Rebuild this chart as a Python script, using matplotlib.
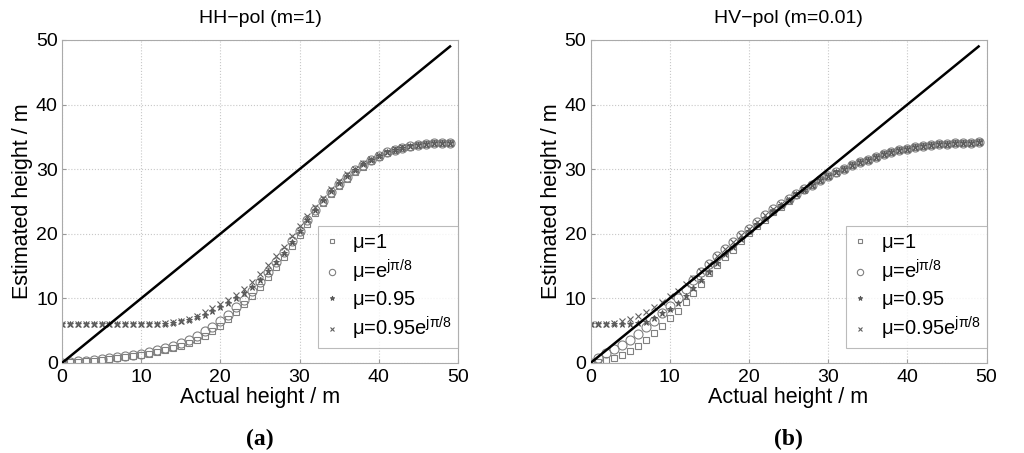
import matplotlib
matplotlib.use("Agg")
import matplotlib.pyplot as plt
import numpy as np

plt.rcParams['font.family'] = ['Liberation Sans', 'DejaVu Sans']
plt.rcParams['mathtext.fontset'] = 'custom'
plt.rcParams['mathtext.rm'] = 'Liberation Sans'
plt.rcParams['mathtext.it'] = 'Liberation Sans:italic'

actual = list(range(50))

# HH-pol (m=1)
hh_mu1 = [0.0, 0.1, 0.15, 0.25, 0.35, 0.5, 0.6, 0.75, 0.9, 1.05, 1.2, 1.4, 1.65, 1.95, 2.3, 2.7,
          3.1, 3.6, 4.2, 4.9, 5.8, 6.8, 7.9, 9.1, 10.4, 11.8, 13.3, 14.8, 16.4, 18.1, 19.8, 21.5,
          23.2, 24.7, 26.1, 27.4, 28.5, 29.5, 30.4, 31.2, 31.9, 32.5, 32.9, 33.3, 33.5, 33.7,
          33.9, 34.0, 34.0, 34.1]
hh_mue = [0.05, 0.15, 0.25, 0.35, 0.45, 0.6, 0.75, 0.9, 1.05, 1.25, 1.45, 1.7, 2.0, 2.3, 2.7, 3.1,
          3.6, 4.2, 4.9, 5.6, 6.5, 7.5, 8.6, 9.8, 11.1, 12.6, 14.1, 15.7, 17.2, 18.9, 20.5, 22.1,
          23.7, 25.1, 26.5, 27.7, 28.8, 29.8, 30.7, 31.4, 32.0, 32.6, 33.0, 33.3, 33.6, 33.8,
          33.9, 34.0, 34.05, 34.1]
hh_mu095 = [6.0, 6.0, 6.0, 6.0, 6.0, 6.0, 6.0, 6.0, 6.0, 6.0, 6.0, 6.0, 6.05, 6.1, 6.25, 6.45,
            6.7, 7.1, 7.5, 8.0, 8.6, 9.3, 10.0, 10.8, 11.8, 12.9, 14.2, 15.6, 17.1, 18.8, 20.5,
            22.1, 23.7, 25.2, 26.6, 27.8, 28.9, 29.9, 30.8, 31.5, 32.1, 32.6, 33.0, 33.35, 33.6,
            33.8, 33.9, 34.0, 34.05, 34.1]
hh_mu095e = [6.0, 6.0, 6.0, 6.0, 6.0, 6.0, 6.0, 6.0, 6.0, 6.0, 6.0, 6.0, 6.05, 6.15, 6.3, 6.55,
             6.85, 7.3, 7.9, 8.5, 9.1, 9.8, 10.5, 11.4, 12.5, 13.8, 15.1, 16.5, 18.0, 19.6, 21.2,
             22.7, 24.2, 25.6, 27.0, 28.2, 29.2, 30.1, 30.9, 31.6, 32.2, 32.7, 33.1, 33.4, 33.6,
             33.8, 33.9, 34.0, 34.05, 34.1]

# HV-pol (m=0.01)
hv_mu1 = [0.0, 0.1, 0.4, 0.7, 1.25, 1.85, 2.6, 3.6, 4.6, 5.7, 6.9, 8.1, 9.4, 10.8, 12.3, 13.9,
          15.1, 16.4, 17.5, 18.9, 20.1, 21.2, 22.2, 23.3, 24.2, 25.1, 26.0, 26.8, 27.6, 28.3,
          28.9, 29.4, 30.0, 30.6, 31.1, 31.5, 31.9, 32.3, 32.7, 33.0, 33.2, 33.4, 33.6, 33.7,
          33.85, 33.95, 34.0, 34.05, 34.1, 34.15]
hv_mue = [0.0, 0.7, 1.5, 2.1, 2.8, 3.6, 4.5, 5.5, 6.5, 7.7, 8.8, 10.1, 11.5, 12.9, 14.1, 15.4,
          16.6, 17.6, 18.8, 19.8, 20.8, 21.9, 22.9, 23.8, 24.6, 25.4, 26.2, 26.9, 27.6, 28.3,
          28.9, 29.5, 30.1, 30.6, 31.1, 31.5, 31.9, 32.3, 32.7, 33.0, 33.2, 33.4, 33.6, 33.7,
          33.85, 33.95, 34.0, 34.05, 34.1, 34.15]
hv_mu095 = [6.0, 6.0, 6.0, 6.0, 6.0, 6.0, 6.2, 6.4, 6.9, 7.7, 8.4, 9.3, 10.4, 11.6, 12.8, 14.1,
            15.5, 16.8, 18.0, 19.2, 20.4, 21.5, 22.5, 23.5, 24.4, 25.2, 26.1, 26.8, 27.6, 28.3,
            28.9, 29.5, 30.1, 30.6, 31.1, 31.5, 31.9, 32.3, 32.7, 33.0, 33.2, 33.4, 33.6, 33.7,
            33.85, 33.95, 34.0, 34.05, 34.1, 34.15]
hv_mu095e = [6.0, 6.0, 6.0, 6.2, 6.5, 6.8, 7.3, 7.9, 8.6, 9.4, 10.3, 11.2, 12.2, 13.2, 14.2, 15.4,
             16.6, 17.6, 18.8, 19.8, 20.8, 21.9, 22.9, 23.8, 24.6, 25.4, 26.2, 26.9, 27.6, 28.3,
             28.9, 29.5, 30.1, 30.6, 31.1, 31.5, 31.9, 32.3, 32.7, 33.0, 33.2, 33.4, 33.6, 33.7,
             33.85, 33.95, 34.0, 34.05, 34.1, 34.15]

ref_x = [0, 49]
ref_y = [0, 49]

titles = ['HH\u2212pol (m=1)', 'HV\u2212pol (m=0.01)']
panel_labels = ['(a)', '(b)']
legend_labels = [r'$\mathregular{\mu}$=1',
                 r'$\mathregular{\mu}$=e$^{\mathregular{j\pi/8}}$',
                 r'$\mathregular{\mu}$=0.95',
                 r'$\mathregular{\mu}$=0.95e$^{\mathregular{j\pi/8}}$']

fig = plt.figure(figsize=(10.24, 4.53), dpi=100)
ax1 = fig.add_axes([0.0605, 0.1987, 0.3867, 0.713])
ax2 = fig.add_axes([0.5767, 0.1987, 0.3867, 0.713])

gray = '#808080'
datasets = [(hh_mu1, hh_mue, hh_mu095, hh_mu095e), (hv_mu1, hv_mue, hv_mu095, hv_mu095e)]
for ax, data, title, pl in zip([ax1, ax2], datasets, titles, panel_labels):
    s1, s2, s3, s4 = data
    ax.plot(ref_x, ref_y, color='black', lw=1.8, zorder=3)
    ax.plot(actual, s1, ls='none', marker='s', ms=4.5, mfc='none', mec=gray, mew=0.8, label=legend_labels[0])
    ax.plot(actual, s2, ls='none', marker='o', ms=6.5, mfc='none', mec=gray, mew=0.8, label=legend_labels[1])
    ax.plot(actual, s3, ls='none', marker='*', ms=5, mfc='#606060', mec='#505050', mew=0.6, label=legend_labels[2])
    ax.plot(actual, s4, ls='none', marker='x', ms=4, mec='#606060', mew=0.8, label=legend_labels[3])
    ax.set_xlim(0, 50)
    ax.set_ylim(0, 50)
    ax.set_xticks([0, 10, 20, 30, 40, 50])
    ax.set_yticks([0, 10, 20, 30, 40, 50])
    ax.grid(True, ls=':', color='#c8c8c8', lw=0.8)
    ax.tick_params(direction='in', length=3, labelsize=14, color='#999999')
    ax.tick_params(axis='x', pad=4)
    ax.tick_params(axis='y', pad=3)
    for sp in ax.spines.values():
        sp.set_color('#aaaaaa')
        sp.set_linewidth(0.8)
    ax.set_title(title, fontsize=14, pad=12)
    ax.set_xlabel('Actual height / m', fontsize=15.5, labelpad=1)
    ax.set_ylabel('Estimated height / m', fontsize=15.5, labelpad=2)
    leg = ax.legend(loc='lower right', bbox_to_anchor=(1.0, 0.045), fontsize=14.5, frameon=True,
                    fancybox=False, edgecolor='#aaaaaa', handlelength=0.8, handletextpad=0.6,
                    borderpad=0.3, labelspacing=0.2, markerscale=0.7, borderaxespad=0.0)
    leg.get_frame().set_linewidth(0.8)
    ax.text(0.5, -0.205, pl, transform=ax.transAxes, ha='center', va='top',
            fontsize=17, fontweight='bold', family='Liberation Serif')

fig.savefig('out.png', dpi=100)
